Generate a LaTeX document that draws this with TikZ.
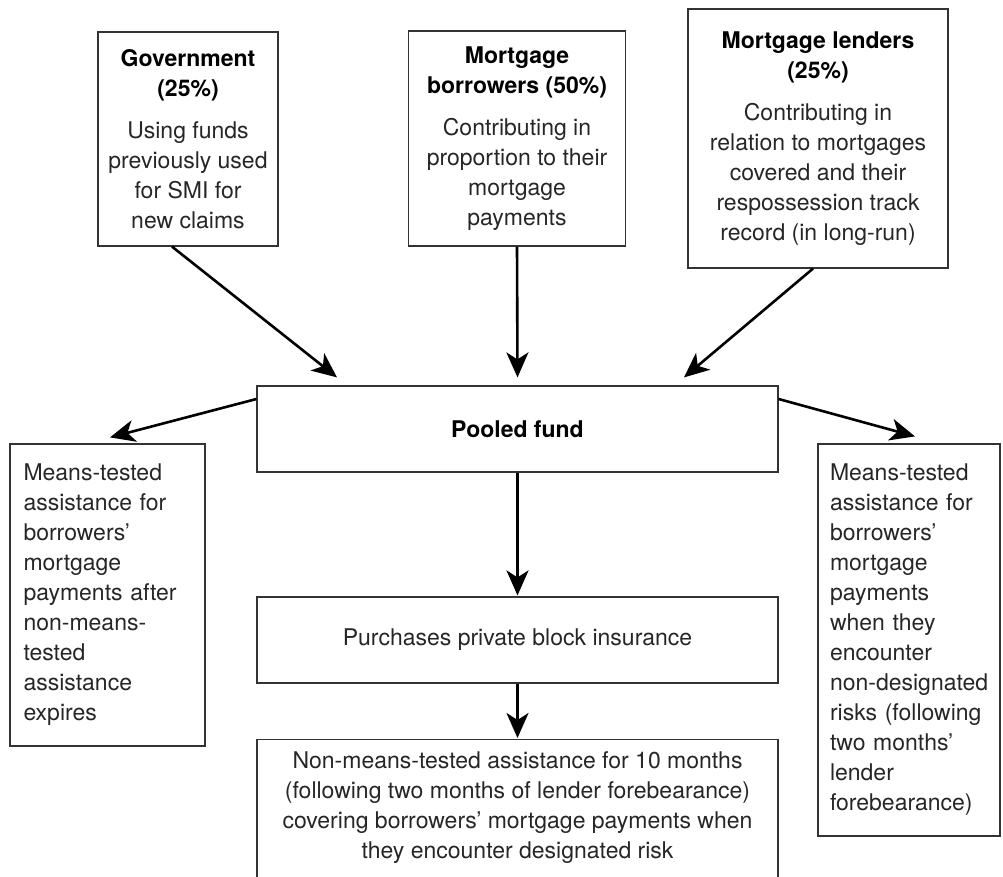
\documentclass[tikz,border=0pt]{standalone}
\usepackage{fontspec}
\setmainfont{TeX Gyre Heros}
\usepackage{tikz}
\usetikzlibrary{arrows.meta, positioning}

\begin{document}
\begin{tikzpicture}[x=1pt, y=-1pt,
    box/.style={draw=black!80, line width=1.2pt, inner sep=0pt, text=black!85,
        font={\fontsize{23}{30}\selectfont\hyphenpenalty=10000 \exhyphenpenalty=10000 }},
    mid/.style={box, align=center},
    side/.style={box, align=left, inner xsep=12pt, text width=158pt, minimum width=182pt},
    flow/.style={line width=2.6pt, -{Stealth[length=25pt, width=22pt, inset=7pt]}}]
    \useasboundingbox (0,0) rectangle (1003,876);

    % contributors
    \node[mid, minimum width=180, minimum height=214] (gov) at (188,139)
        {\textbf{\color{black}Government}\\\textbf{\color{black}(25\%)}\\[12pt]Using funds\\previously used\\for SMI for\\new claims};
    \node[mid, minimum width=217, minimum height=215] (borrow) at (517,138.5)
        {\textbf{\color{black}Mortgage}\\\textbf{\color{black}borrowers (50\%)}\\[12pt]Contributing in\\proportion to their\\mortgage\\payments};
    \node[mid, minimum width=260, minimum height=259] (lender) at (818,138.5)
        {\textbf{\color{black}Mortgage lenders}\\\textbf{\color{black}(25\%)}\\[12pt]Contributing in\\relation to mortgages\\covered and their\\respossession track\\record (in long-run)};

    % fund and what it pays for
    \node[mid, minimum width=521, minimum height=86] (pool) at (517.5,429) {\textbf{\color{black}Pooled fund}};
    \node[side, minimum height=302, text width=168pt, minimum width=195pt, inner xsep=13.5pt] (meansL) at (107.5,595)
        {Means-tested\\assistance for\\borrowers'\\mortgage\\payments after\\non-means-\\tested\\assistance\\expires};
    \node[side, minimum height=392] (meansR) at (909,640)
        {Means-tested\\assistance for\\borrowers'\\mortgage\\payments\\when they\\encounter\\non-designated\\risks (following\\two months'\\lender\\forebearance)};
    \node[mid, minimum width=521, minimum height=86] (block) at (517.5,640) {Purchases private block insurance};
    \node[box, minimum width=521, minimum height=200, anchor=north] (cover) at (517.5,739) {};
    \node[mid, draw=none, anchor=north] (covertxt) at ([yshift=-12pt]cover.north)
        {Non-means-tested assistance for 10 months\\(following two months of lender forebearance)\\covering borrowers' mortgage payments when\\they encounter designated risk};

    % arrows
    \draw[flow] ([xshift=-16pt]gov.south) -- ([xshift=-180.5pt, yshift=8pt]pool.north);
    \draw[flow] (borrow.south) -- ([yshift=8pt]pool.north);
    \draw[flow] ([xshift=-5pt]lender.south) -- ([xshift=166.5pt, yshift=8pt]pool.north);
    \draw[flow] ([yshift=30pt]pool.west) -- ([xshift=2.5pt, yshift=6pt]meansL.north);
    \draw[flow] ([yshift=30pt]pool.east) -- ([xshift=6pt, yshift=7pt]meansR.north);
    \draw[flow] (pool.south) -- ([yshift=1pt]block.north);
    \draw[flow] (block.south) -- ([yshift=1pt]cover.north);
\end{tikzpicture}
\end{document}
